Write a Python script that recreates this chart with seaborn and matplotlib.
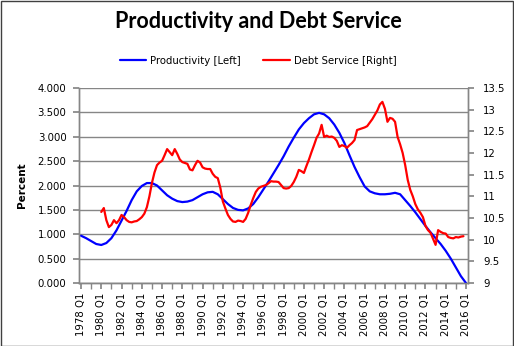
import matplotlib
matplotlib.use("Agg")
import matplotlib.pyplot as plt
import seaborn as sns
import numpy as np
import pandas as pd

# ---- data ----
years_prod = [1978 + 0.5 * i for i in range(77)]  # half-year positions 1978 Q1 .. 2016 Q1
productivity = [
    0.97, 0.92, 0.86, 0.80, 0.78, 0.82, 0.92, 1.08, 1.28, 1.48,
    1.70, 1.88, 1.99, 2.05, 2.05, 2.00, 1.90, 1.80, 1.73, 1.68,
    1.66, 1.67, 1.70, 1.76, 1.82, 1.86, 1.87, 1.82, 1.72, 1.62,
    1.54, 1.50, 1.49, 1.53, 1.62, 1.76, 1.92, 2.08, 2.25, 2.42,
    2.60, 2.80, 2.98, 3.15, 3.28, 3.38, 3.46, 3.49, 3.46, 3.38,
    3.25, 3.08, 2.87, 2.62, 2.38, 2.17, 1.98, 1.88, 1.84, 1.82,
    1.82, 1.83, 1.85, 1.82, 1.70, 1.58, 1.45, 1.31, 1.17, 1.04,
    0.92, 0.80, 0.66, 0.50, 0.32, 0.14, 0.00,
]

years_debt = [1980 + 0.25 * i for i in range(144)]  # quarterly 1980 Q1 .. 2015 Q4
debt_service = [
    10.64, 10.73, 10.45, 10.29, 10.34, 10.45, 10.38, 10.45,
    10.57, 10.52, 10.45, 10.41, 10.40, 10.42, 10.43, 10.47,
    10.52, 10.60, 10.75, 11.00, 11.31, 11.55, 11.72, 11.78,
    11.82, 11.95, 12.09, 12.02, 11.95, 12.09, 11.98, 11.85,
    11.79, 11.77, 11.75, 11.62, 11.60, 11.72, 11.82, 11.78,
    11.67, 11.64, 11.63, 11.63, 11.52, 11.45, 11.42, 11.20,
    10.88, 10.72, 10.57, 10.48, 10.42, 10.41, 10.44, 10.43,
    10.41, 10.48, 10.62, 10.80, 10.96, 11.10, 11.18, 11.22,
    11.24, 11.26, 11.30, 11.35, 11.34, 11.34, 11.33, 11.26,
    11.19, 11.18, 11.19, 11.24, 11.33, 11.45, 11.61, 11.58,
    11.54, 11.70, 11.85, 12.02, 12.18, 12.35, 12.45, 12.65,
    12.37, 12.40, 12.37, 12.38, 12.35, 12.28, 12.14, 12.18,
    12.16, 12.12, 12.18, 12.23, 12.30, 12.53, 12.55, 12.57,
    12.59, 12.62, 12.70, 12.78, 12.88, 12.98, 13.12, 13.18,
    13.02, 12.72, 12.81, 12.79, 12.72, 12.37, 12.20, 12.00,
    11.72, 11.38, 11.15, 11.00, 10.82, 10.70, 10.62, 10.52,
    10.32, 10.22, 10.16, 10.02, 9.88, 10.22, 10.18, 10.15,
    10.14, 10.06, 10.04, 10.03, 10.06, 10.05, 10.07, 10.08,
]

tick_years = list(range(1978, 2017, 2))
tick_labels = [f"{y} Q1" for y in tick_years]
left_ticks = [0.0, 0.5, 1.0, 1.5, 2.0, 2.5, 3.0, 3.5, 4.0]
right_ticks = [9, 9.5, 10, 10.5, 11, 11.5, 12, 12.5, 13, 13.5]
right_labels = ["9", "9.5", "10", "10.5", "11", "11.5", "12", "12.5", "13", "13.5"]

title = "Productivity and Debt Service"
label_prod = "Productivity [Left]"
label_debt = "Debt Service [Right]"

# ---- figure ----
sns.set_theme(style="white")
plt.rcParams["font.family"] = ["DejaVu Sans"]
plt.rcParams["text.color"] = "black"
plt.rcParams["axes.labelcolor"] = "black"
plt.rcParams["xtick.color"] = "black"
plt.rcParams["ytick.color"] = "black"

fig = plt.figure(figsize=(5.14, 3.46), dpi=100)
ax = fig.add_axes([79 / 514, 1 - 283 / 346, (468 - 79) / 514, (283 - 88) / 346])
ax2 = ax.twinx()

df_p = pd.DataFrame({"year": years_prod, "value": productivity})
df_d = pd.DataFrame({"year": years_debt, "value": debt_service})

grid_c = "#868686"
for y in left_ticks:
    ax.axhline(y, color=grid_c, lw=1.0, zorder=0)

sns.lineplot(data=df_p, x="year", y="value", ax=ax, color="#0000ff", lw=1.6, zorder=3)
sns.lineplot(data=df_d, x="year", y="value", ax=ax2, color="#ff0000", lw=1.6, zorder=3)

ax.set_xlim(1977.8, 2016.2)
ax.set_ylim(0, 4.0)
ax2.set_ylim(9, 13.5)

fs = 7.3
ax.set_yticks(left_ticks)
ax.set_yticklabels([f"{v:.3f}" for v in left_ticks], fontsize=fs)
ax2.set_yticks(right_ticks)
ax2.set_yticklabels(right_labels, fontsize=fs)
ax.set_xticks(tick_years)
ax.set_xticklabels(tick_labels, rotation=90, fontsize=fs)
ax.set_xticks(list(range(1978, 2017)), minor=True)

ax.set_xlabel("")
ax2.set_xlabel("")
ax.set_ylabel("Percent", fontsize=7.5, fontweight="bold", labelpad=8, color="black")
ax2.set_ylabel("")

for a in (ax, ax2):
    for s in a.spines.values():
        s.set_color(grid_c)
        s.set_linewidth(1.0)
    a.spines["top"].set_visible(False)

ax.tick_params(axis="y", which="both", left=True, length=4, color=grid_c, pad=5, labelcolor="black")
ax.tick_params(axis="x", which="both", bottom=True, length=4, color=grid_c, pad=3, labelcolor="black")
ax2.tick_params(axis="y", right=True, length=4, color=grid_c, pad=7, labelcolor="black")

# title and legend
fig.text(258 / 514, 1 - 22 / 346, title, ha="center", va="center", color="black",
         fontsize=15.5, fontweight="bold", family=["Lato", "DejaVu Sans"])

from matplotlib.lines import Line2D
handles = [Line2D([], [], color="#0000ff", lw=1.6), Line2D([], [], color="#ff0000", lw=1.6)]
leg = fig.legend(handles, [label_prod, label_debt], loc="center", bbox_to_anchor=(258 / 514, 1 - 61 / 346),
                 ncol=2, frameon=False, fontsize=7.3, handlelength=2.6, handletextpad=0.4, columnspacing=2.2)
for t in leg.get_texts():
    t.set_color("black")

# outer border
fig.patches.append(plt.Rectangle((0.001, 0.001), 0.997, 0.997, transform=fig.transFigure,
                                 fill=False, edgecolor="#404040", lw=1.0))

fig.savefig("out.png", dpi=100)
